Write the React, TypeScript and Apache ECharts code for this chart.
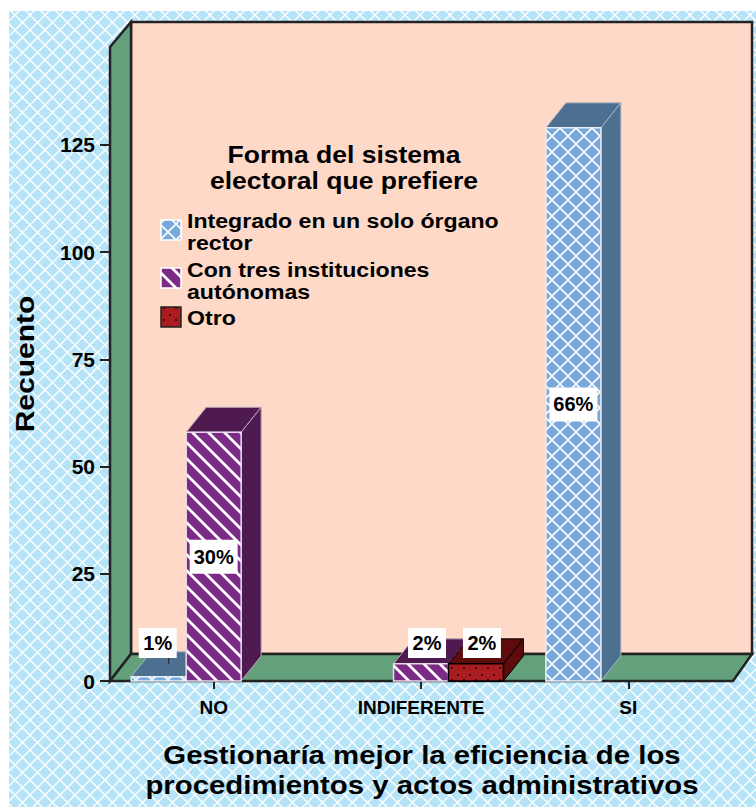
import React, { useEffect, useRef } from "react";
import * as echarts from "echarts";

const categories = ["NO", "INDIFERENTE", "SI"];
const yTicks = [0, 25, 50, 75, 100, 125];
const integrado: ([number, number, string])[] = [[0, 1, "1%"], [2, 129, "66%"]];
const tres: ([number, number, string])[] = [[0, 58, "30%"], [1, 4, "2%"]];
const otro: ([number, number, string])[] = [[1, 4, "2%"]];
const names = [
  "Integrado en un solo órgano\nrector",
  "Con tres instituciones\nautónomas",
  "Otro",
];
const legendTitle = "Forma del sistema\nelectoral que prefiere";
const xTitle = "Gestionaría mejor la eficiencia de los\nprocedimientos y actos administrativos";
const yTitle = "Recuento";

const FONT = '"Liberation Sans", Arial, sans-serif';

function pattern(size: number, draw: (c: CanvasRenderingContext2D, s: number) => void) {
  const cv = document.createElement("canvas");
  cv.width = size;
  cv.height = size;
  const c = cv.getContext("2d")!;
  draw(c, size);
  return { image: cv, repeat: "repeat" };
}

function lattice(bg: string, line: string, w: number) {
  return (c: CanvasRenderingContext2D, s: number) => {
    c.fillStyle = bg;
    c.fillRect(0, 0, s, s);
    c.strokeStyle = line;
    c.lineWidth = w;
    c.beginPath();
    c.moveTo(-s, 0); c.lineTo(s, 2 * s);
    c.moveTo(0, 0); c.lineTo(s, s);
    c.moveTo(0, -s); c.lineTo(2 * s, s);
    c.moveTo(0, s); c.lineTo(s, 0);
    c.moveTo(-s, s); c.lineTo(s, -s);
    c.moveTo(0, 2 * s); c.lineTo(2 * s, 0);
    c.stroke();
  };
}

function stripes(c: CanvasRenderingContext2D, s: number) {
  c.fillStyle = "#7b2a85";
  c.fillRect(0, 0, s, s);
  c.strokeStyle = "#ffffff";
  c.lineWidth = 2.8;
  c.beginPath();
  c.moveTo(-s, 0); c.lineTo(s, 2 * s);
  c.moveTo(0, 0); c.lineTo(s, s);
  c.moveTo(0, -s); c.lineTo(2 * s, s);
  c.stroke();
}

function dots(c: CanvasRenderingContext2D, s: number) {
  c.fillStyle = "#a91c1f";
  c.fillRect(0, 0, s, s);
  c.fillStyle = "#4a0a0c";
  c.fillRect(1, 2, 2, 2);
  c.fillRect(7, 7, 2, 2);
}

export default function App() {
  const ref = useRef<HTMLDivElement>(null);
  useEffect(() => {
    const chart = echarts.init(ref.current!, null, { renderer: "svg" });
    const bgFill = pattern(15, lattice("#b5e4f9", "#ffffff", 1.4));
    const blueFill = pattern(16, lattice("#79a9dc", "#ffffff", 1.6));
    const purpleFill = pattern(16, stripes);
    const redFill = pattern(12, dots);

    const makeRender = (offset: number, fill: any, top: string, side: string, edge: string, front: string) =>
      (params: any, api: any) => {
        const cat = api.value(0);
        const val = api.value(1);
        const band = api.size([1, 0])[0];
        const w = band * 0.265;
        const [cx, yTop] = api.coord([cat, val]);
        const [, y0] = api.coord([cat, 0]);
        const x = cx + offset * w - w / 2;
        const dx = 20;
        const dy = 25;
        const children: any[] = [
          { type: "polygon", shape: { points: [[x, yTop], [x + dx, yTop - dy], [x + w + dx, yTop - dy], [x + w, yTop]] }, style: { fill: top, stroke: edge, lineWidth: 1 } },
          { type: "polygon", shape: { points: [[x + w, yTop], [x + w + dx, yTop - dy], [x + w + dx, y0 - dy], [x + w, y0]] }, style: { fill: side, stroke: edge, lineWidth: 1 } },
          { type: "rect", shape: { x, y: yTop, width: w, height: y0 - yTop }, style: { fill, stroke: front, lineWidth: 1.5 } },
        ];
        const short = y0 - yTop < 40;
        const lx = short ? x + w / 2 + (val > 1 ? 6 : -1) : x + w / 2;
        const ly = short ? y0 - 38 : (yTop + y0) / 2;
        const label = String(api.value(2));
        const lw = label.length > 2 ? 48 : 38;
        if (short) {
          children.push({ type: "line", shape: { x1: x + w / 2 + dx / 2, y1: ly + 15, x2: x + w / 2 + dx / 2, y2: yTop - dy / 2 }, style: { stroke: "#222222", lineWidth: 1 } });
        }
        children.push({ type: "rect", z2: 20, shape: { x: lx - lw / 2, y: ly - (short ? 15 : 17), width: lw, height: short ? 30 : 34 }, style: { fill: "#ffffff" } });
        children.push({ type: "text", z2: 21, x: lx, y: ly, style: { text: label, fill: "#000000", font: `bold 20px ${FONT}`, align: "center", verticalAlign: "middle" } });
        return { type: "group", children };
      };

    const serie = (name: string, data: any[], render: any, z: number) => ({
      type: "custom",
      name,
      data,
      z,
      clip: false,
      encode: { x: 0, y: 1 },
      renderItem: render,
    });

    const legendText = (text: string, y: number) => ({
      type: "text", z: 10, x: 187, y, scaleX: 1.1,
      style: { text, fill: "#000", font: `bold 21px ${FONT}`, lineHeight: 22, align: "left", verticalAlign: "middle" },
    });

    chart.setOption({
      animation: false,
      grid: { left: 110, top: 47, width: 622, height: 634, containLabel: false },
      xAxis: {
        type: "category",
        data: categories,
        axisLine: { show: true, lineStyle: { color: "#222", width: 2 } },
        axisTick: { show: true, alignWithLabel: true, length: 8, lineStyle: { color: "#222", width: 2 } },
        axisLabel: { fontFamily: FONT, fontWeight: "bold", fontSize: 19, color: "#000", margin: 17, interval: 0 },
        splitLine: { show: false },
      },
      yAxis: {
        type: "value",
        min: 0,
        max: 147.85,
        interval: 25,
        axisLine: { show: true, lineStyle: { color: "#222", width: 2 } },
        axisTick: { show: true, length: 10, customValues: yTicks, lineStyle: { color: "#222", width: 2 } },
        axisLabel: { fontFamily: FONT, fontWeight: "bold", fontSize: 21, color: "#000", margin: 15, customValues: yTicks },
        splitLine: { show: false },
      },
      graphic: [
        { type: "rect", z: -30, shape: { x: 9, y: 11, width: 747, height: 796 }, style: { fill: bgFill } },
        { type: "rect", z: -20, shape: { x: 131, y: 22, width: 621, height: 632 }, style: { fill: "#ffd9c8", stroke: "#222", lineWidth: 2.5 } },
        { type: "polygon", z: -20, shape: { points: [[110, 47], [131, 22], [131, 654], [110, 681]] }, style: { fill: "#64a07b", stroke: "#222", lineWidth: 2.5 } },
        { type: "polygon", z: -20, shape: { points: [[110, 681], [131, 654], [752, 654], [733, 681]] }, style: { fill: "#64a07b", stroke: "#222", lineWidth: 2.5 } },
        { type: "text", z: 10, x: 344, y: 167, scaleX: 1.105, style: { text: legendTitle, fill: "#000", font: `bold 24px ${FONT}`, lineHeight: 26, align: "center", verticalAlign: "middle" } },
        { type: "rect", z: 10, shape: { x: 161, y: 220, width: 20, height: 20 }, style: { fill: blueFill, stroke: "#ffffff", lineWidth: 1.5 } },
        { type: "rect", z: 10, shape: { x: 161, y: 268, width: 20, height: 20 }, style: { fill: purpleFill, stroke: "#ffffff", lineWidth: 1.5 } },
        { type: "rect", z: 10, shape: { x: 161, y: 307, width: 20, height: 20 }, style: { fill: redFill, stroke: "#222222", lineWidth: 1.5 } },
        legendText(names[0], 232),
        legendText(names[1], 281),
        legendText(names[2], 318),
        { type: "text", z: 10, x: 422, y: 770, scaleX: 1.175, style: { text: xTitle, fill: "#000", font: `bold 25px ${FONT}`, lineHeight: 30, align: "center", verticalAlign: "middle" } },
        { type: "text", z: 10, x: 25, y: 364, rotation: Math.PI / 2, scaleX: 1.2, style: { text: yTitle, fill: "#000", font: `bold 25px ${FONT}`, align: "center", verticalAlign: "middle" } },
      ],
      series: [
        serie(names[0], integrado, makeRender(-1, blueFill, "#4e7090", "#4e7090", "#a9b4bf", "#e8eef5"), 3),
        serie(names[1], tres, makeRender(0, purpleFill, "#4f1a50", "#4f1a50", "#b9a6b9", "#e8dcea"), 4),
        serie(names[2], otro, makeRender(1, redFill, "#5e0b0d", "#5e0b0d", "#000000", "#000000"), 5),
      ],
    });
    return () => chart.dispose();
  }, []);
  return <div ref={ref} style={{ position: "absolute", left: 0, top: 0, width: 756, height: 807 }} />;
}
